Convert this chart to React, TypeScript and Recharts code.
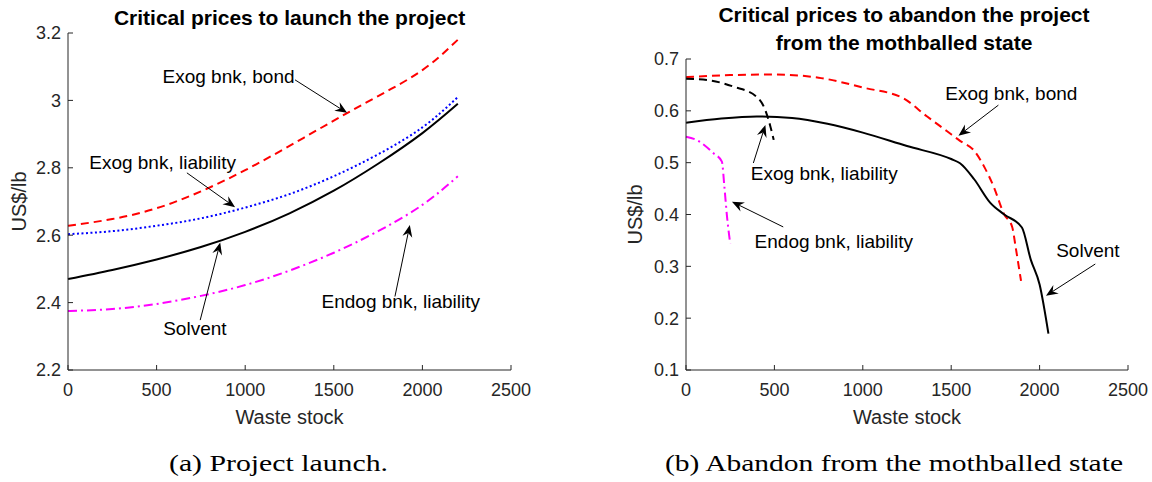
import React from "react";
import { Line, LineChart, ReferenceDot, ReferenceLine, XAxis, YAxis } from "recharts";

// (a) critical prices to launch, all series on the same stock grid
const launchStock = [0, 250, 500, 750, 1000, 1250, 1500, 1750, 2000, 2200];
const launchBond = [2.628, 2.648, 2.68, 2.73, 2.793, 2.865, 2.94, 3.013, 3.09, 3.18];
const launchLiability = [2.603, 2.612, 2.628, 2.65, 2.682, 2.722, 2.775, 2.84, 2.92, 3.01];
const launchSolvent = [2.47, 2.497, 2.528, 2.565, 2.61, 2.665, 2.732, 2.812, 2.903, 2.99];
const launchEndog = [2.375, 2.381, 2.396, 2.42, 2.452, 2.495, 2.548, 2.612, 2.69, 2.775];

// (b) critical prices to abandon from mothballed state
const abandonBondStock = [0, 250, 500, 750, 1000, 1230, 1360, 1475, 1550, 1630, 1690, 1740, 1800, 1845, 1865, 1895];
const abandonBond = [0.665, 0.669, 0.67, 0.664, 0.645, 0.624, 0.59, 0.561, 0.542, 0.523, 0.49, 0.454, 0.4, 0.376, 0.336, 0.272];
const abandonSolventStock = [0, 200, 400, 600, 800, 1000, 1250, 1500, 1550, 1630, 1720, 1800, 1900, 1950, 2000, 2050];
const abandonSolvent = [0.577, 0.585, 0.589, 0.586, 0.575, 0.558, 0.532, 0.507, 0.499, 0.468, 0.423, 0.4, 0.375, 0.313, 0.265, 0.17];
const abandonLiabilityStock = [0, 120, 270, 400, 450, 478, 496];
const abandonLiability = [0.662, 0.6595, 0.6465, 0.627, 0.6, 0.569, 0.544];
const abandonEndogStock = [0, 62, 156, 203, 217, 232, 250];
const abandonEndog = [0.55, 0.5435, 0.518, 0.502, 0.454, 0.396, 0.344];

const stockTicks = [0, 500, 1000, 1500, 2000, 2500];
const launchTicks = [2.2, 2.4, 2.6, 2.8, 3, 3.2];
const abandonTicks = [0.1, 0.2, 0.3, 0.4, 0.5, 0.6, 0.7];

type Note = { text: string; tx: number; ty: number; fromX: number; fromY: number; toX: number; toY: number };

const launchNotes: Note[] = [
  { text: "Exog bnk, bond", tx: 906, ty: 3.072, fromX: 1281, fromY: 3.061, toX: 1575, toY: 2.963 },
  { text: "Exog bnk, liability", tx: 534, ty: 2.816, fromX: 671, fromY: 2.785, toX: 943, toY: 2.683 },
  { text: "Solvent", tx: 716, ty: 2.322, fromX: 746, fromY: 2.348, toX: 859, toY: 2.578 },
  { text: "Endog bnk, liability", tx: 1878, ty: 2.402, fromX: 1845, fromY: 2.418, toX: 1929, toY: 2.63 },
];

const abandonNotes: Note[] = [
  { text: "Exog bnk, bond", tx: 1840, ty: 0.6325, fromX: 1767, fromY: 0.611, toX: 1541, toY: 0.552 },
  { text: "Solvent", tx: 2273, ty: 0.33, fromX: 2315, fromY: 0.3045, toX: 2036, toY: 0.2433 },
  { text: "Exog bnk, liability", tx: 782, ty: 0.48, fromX: 381, fromY: 0.4994, toX: 449, toY: 0.5727 },
  { text: "Endog bnk, liability", tx: 836, ty: 0.347, fromX: 550, fromY: 0.376, toX: 260, toY: 0.4247 },
];

const zip = (xs: number[], ys: number[]) => xs.map((x, i) => ({ x, y: ys[i] }));

const AXIS = "#262626";
const SANS = "'Liberation Sans', Arial, Helvetica, sans-serif";
const tickStyle = { fill: AXIS, fontSize: 18, fontFamily: SANS };

const dashed = "8 5";
const dotted = "2 2.5";
const dashDot = "9 4 2 4";

function Arrow(props: any) {
  const { x1, y1, x2, y2 } = props;
  const a = Math.atan2(y2 - y1, x2 - x1);
  const ux = Math.cos(a);
  const uy = Math.sin(a);
  const len = 12;
  const half = 5;
  const nx = x2 - ux * (len - 4);
  const ny = y2 - uy * (len - 4);
  const bx = x2 - ux * len;
  const by = y2 - uy * len;
  const pts = [
    [x2, y2],
    [bx - uy * half, by + ux * half],
    [nx, ny],
    [bx + uy * half, by - ux * half],
  ]
    .map((p) => p.join(","))
    .join(" ");
  return (
    <g>
      <line x1={x1} y1={y1} x2={nx} y2={ny} stroke="#000" strokeWidth={1} />
      <polygon points={pts} fill="#000" />
    </g>
  );
}

function yLabel(dx: number) {
  return (p: any) => {
    const vb = p.viewBox || {};
    const x = vb.x + dx;
    const y = vb.y + vb.height / 2;
    return (
      <text
        x={x}
        y={y}
        transform={`rotate(-90, ${x}, ${y})`}
        textAnchor="middle"
        dominantBaseline="central"
        fill={AXIS}
        fontSize={20}
        fontFamily={SANS}
      >
        US$/lb
      </text>
    );
  };
}

function notesFor(notes: Note[]) {
  return notes.flatMap((n, i) => [
    <ReferenceLine
      key={`a${i}`}
      segment={[
        { x: n.fromX, y: n.fromY },
        { x: n.toX, y: n.toY },
      ]}
      ifOverflow="visible"
      shape={(p: any) => <Arrow {...p} />}
    />,
    <ReferenceDot
      key={`t${i}`}
      x={n.tx}
      y={n.ty}
      r={0}
      ifOverflow="visible"
      shape={(p: any) => (
        <text
          x={p.cx}
          y={p.cy}
          textAnchor="middle"
          dominantBaseline="central"
          fill="#000"
          fontSize={19}
          fontFamily={SANS}
        >
          {n.text}
        </text>
      )}
    />,
  ]);
}

export default function App() {
  const xAxes = [
    <XAxis
      key="xb"
      dataKey="x"
      type="number"
      domain={[0, 2500]}
      ticks={stockTicks}
      tick={tickStyle}
      tickSize={-5}
      tickMargin={18}
      height={30}
      stroke={AXIS}
      label={{ value: "Waste stock", position: "bottom", offset: 10, fill: AXIS, fontSize: 20, fontFamily: SANS }}
    />,
    <XAxis
      key="xt"
      xAxisId="top"
      orientation="top"
      dataKey="x"
      type="number"
      domain={[0, 2500]}
      ticks={stockTicks}
      tick={false}
      tickSize={-5}
      height={0}
      stroke={AXIS}
    />,
  ];

  return (
    <div style={{ position: "absolute", left: 0, top: 0, width: 1152, height: 482, background: "#fff" }}>
      <div style={{ position: "absolute", left: 0, top: 0 }}>
        <LineChart width={576} height={482} margin={{ top: 33, right: 65, bottom: 82, left: 0 }}>
          {xAxes}
          <YAxis
            type="number"
            domain={[2.2, 3.2]}
            ticks={launchTicks}
            tickFormatter={(v) => String(Number(Number(v).toFixed(1)))}
            tick={tickStyle}
            tickSize={-5}
            tickMargin={12}
            width={68}
            stroke={AXIS}
            label={{ content: yLabel(19) }}
          />
          <YAxis
            yAxisId="r"
            orientation="right"
            type="number"
            domain={[2.2, 3.2]}
            ticks={launchTicks}
            tick={false}
            tickSize={-5}
            width={0}
            stroke={AXIS}
          />
          <Line data={zip(launchStock, launchBond)} dataKey="y" type="natural" stroke="#ff0000" strokeWidth={2} strokeDasharray={dashed} dot={false} isAnimationActive={false} />
          <Line data={zip(launchStock, launchLiability)} dataKey="y" type="natural" stroke="#0000ff" strokeWidth={2} strokeDasharray={dotted} dot={false} isAnimationActive={false} />
          <Line data={zip(launchStock, launchSolvent)} dataKey="y" type="natural" stroke="#000" strokeWidth={2} dot={false} isAnimationActive={false} />
          <Line data={zip(launchStock, launchEndog)} dataKey="y" type="natural" stroke="#ff00ff" strokeWidth={2} strokeDasharray={dashDot} dot={false} isAnimationActive={false} />
          {notesFor(launchNotes)}
        </LineChart>
      </div>
      <div style={{ position: "absolute", left: 576, top: 0 }}>
        <LineChart width={576} height={482} margin={{ top: 59, right: 24, bottom: 82, left: 0 }}>
          {xAxes}
          <YAxis
            type="number"
            domain={[0.1, 0.7]}
            ticks={abandonTicks}
            tickFormatter={(v) => Number(v).toFixed(1)}
            tick={tickStyle}
            tickSize={-5}
            tickMargin={12}
            width={110}
            stroke={AXIS}
            label={{ content: yLabel(59) }}
          />
          <YAxis
            yAxisId="r"
            orientation="right"
            type="number"
            domain={[0.1, 0.7]}
            ticks={abandonTicks}
            tick={false}
            tickSize={-5}
            width={0}
            stroke={AXIS}
          />
          <Line data={zip(abandonBondStock, abandonBond)} dataKey="y" type="monotone" stroke="#ff0000" strokeWidth={2} strokeDasharray={dashed} dot={false} isAnimationActive={false} />
          <Line data={zip(abandonLiabilityStock, abandonLiability)} dataKey="y" type="monotone" stroke="#000" strokeWidth={2} strokeDasharray={dashed} dot={false} isAnimationActive={false} />
          <Line data={zip(abandonSolventStock, abandonSolvent)} dataKey="y" type="monotone" stroke="#000" strokeWidth={2} dot={false} isAnimationActive={false} />
          <Line data={zip(abandonEndogStock, abandonEndog)} dataKey="y" type="monotone" stroke="#ff00ff" strokeWidth={2} strokeDasharray={dashDot} dot={false} isAnimationActive={false} />
          {notesFor(abandonNotes)}
        </LineChart>
      </div>
      <svg width={1152} height={482} style={{ position: "absolute", left: 0, top: 0, pointerEvents: "none" }}>
        <g fontFamily={SANS} fontWeight="bold" fontSize={21} fill="#000" textAnchor="middle">
          <text x={289.5} y={25}>Critical prices to launch the project</text>
          <text x={904} y={22}>Critical prices to abandon the project</text>
          <text x={904} y={50}>from the mothballed state</text>
        </g>
        <g fontFamily="'Liberation Serif', 'Times New Roman', serif" fontSize={24} fill="#000">
          <text x={169} y={471} textLength={219} lengthAdjust="spacingAndGlyphs">(a) Project launch.</text>
          <text x={665} y={471} textLength={458} lengthAdjust="spacingAndGlyphs">(b) Abandon from the mothballed state</text>
        </g>
      </svg>
    </div>
  );
}
